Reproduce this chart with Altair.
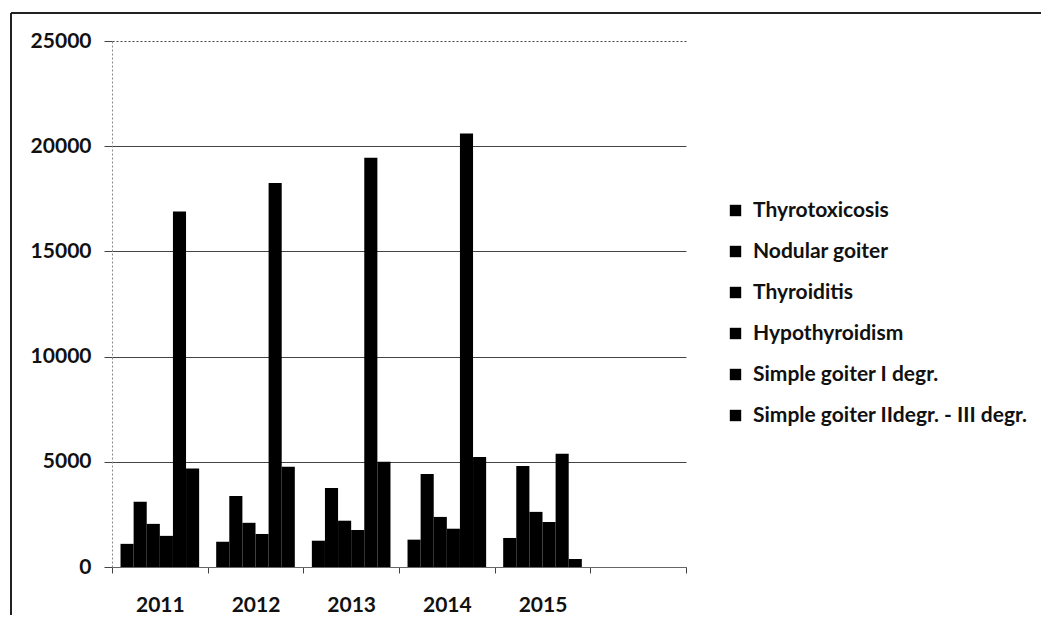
import altair as alt
import pandas as pd

years = ["2011", "2012", "2013", "2014", "2015"]
series = [
    "Thyrotoxicosis",
    "Nodular goiter",
    "Thyroiditis",
    "Hypothyroidism",
    "Simple goiter I degr.",
    "Simple goiter IIdegr. - III degr.",
]
thyrotoxicosis = [1100, 1200, 1250, 1300, 1380]
nodular_goiter = [3100, 3380, 3760, 4420, 4800]
thyroiditis = [2050, 2100, 2200, 2380, 2620]
hypothyroidism = [1480, 1570, 1760, 1820, 2140]
simple_goiter_1 = [16900, 18250, 19450, 20600, 5380]
simple_goiter_2_3 = [4680, 4770, 5000, 5230, 380]

values = [thyrotoxicosis, nodular_goiter, thyroiditis, hypothyroidism,
          simple_goiter_1, simple_goiter_2_3]

rows = []
for s, vals in zip(series, values):
    for y, v in zip(years, vals):
        rows.append({"year": y, "series": s, "value": v})
df = pd.DataFrame(rows)

x_domain = years + [" "]
FONT = "Lato"

bars = alt.Chart(df).mark_bar(color="black").encode(
    x=alt.X("year:N", sort=x_domain,
            scale=alt.Scale(domain=x_domain, paddingInner=0, paddingOuter=0),
            axis=alt.Axis(title=None, labelAngle=0, tickBand="extent",
                          grid=False, domainColor="#666", tickColor="#444",
                          tickSize=6, labelPadding=21, labelFont=FONT,
                          labelFontSize=21, labelFontWeight="bold",
                          labelColor="#111")),
    xOffset=alt.XOffset("series:N", sort=series,
                        scale=alt.Scale(domain=series, paddingInner=0, paddingOuter=0.65)),
    y=alt.Y("value:Q",
            scale=alt.Scale(domain=[0, 25000], nice=False),
            axis=alt.Axis(title=None, values=[0, 5000, 10000, 15000, 20000, 25000],
                          format="d", grid=True, gridColor="#444", gridWidth=1,
                          gridDash={"condition": {"test": "datum.value == 25000", "value": [2, 2]}, "value": []},
                          domainColor="#888", domainDash=[2, 2], tickColor="#444",
                          tickSize=8, labelPadding=13, labelFont=FONT,
                          labelFontSize=21, labelFontWeight="bold",
                          labelColor="#111")),
    color=alt.Color("series:N", sort=series,
                    scale=alt.Scale(domain=series, range=["black"] * 6),
                    legend=alt.Legend(title=None, orient="none", legendX=613,
                                      legendY=159, symbolType="square",
                                      symbolSize=130, symbolStrokeWidth=0,
                                      labelFont=FONT, labelFontSize=21,
                                      labelFontWeight="bold", labelColor="#111",
                                      rowPadding=19, labelOffset=7,
                                      labelLimit=400)),
)

border_top = alt.Chart(df).mark_rule(color="#222", strokeWidth=1.5).encode(
    x=alt.value(-101), x2=alt.value(940), y=alt.value(-28))
border_left = alt.Chart(df).mark_rule(color="#222", strokeWidth=1.5).encode(
    x=alt.value(-101), y=alt.value(-28), y2=alt.value(580))

chart = alt.layer(bars, border_top, border_left).properties(
    width=574, height=526,
    autosize=alt.AutoSizeParams(type="none"),
    padding={"left": 104, "top": 33, "right": 355, "bottom": 48},
).configure_view(stroke=None)

chart.save("out.html", embed_options={"renderer": "svg", "actions": False})
